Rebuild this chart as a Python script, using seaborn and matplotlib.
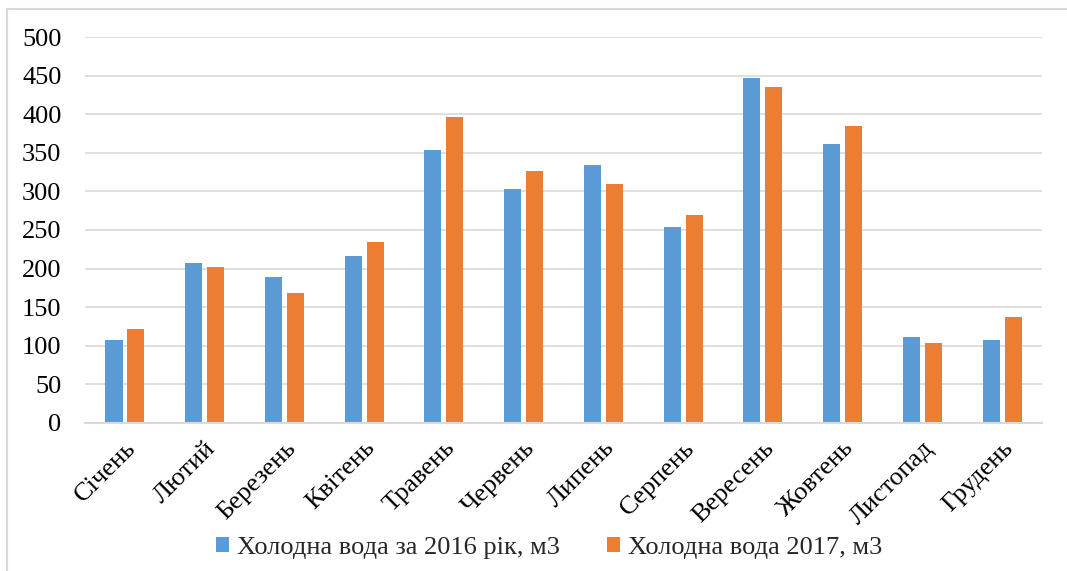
import matplotlib
matplotlib.use("Agg")
import matplotlib.pyplot as plt
from matplotlib.patches import Rectangle
import pandas as pd
import seaborn as sns

months = ["Січень", "Лютий", "Березень", "Квітень", "Травень", "Червень",
          "Липень", "Серпень", "Вересень", "Жовтень", "Листопад", "Грудень"]
series_2016 = "Холодна вода за 2016 рік, м3"
series_2017 = "Холодна вода 2017, м3"
water_2016 = [107, 207, 189, 216, 353, 303, 334, 254, 447, 361, 111, 107]
water_2017 = [122, 202, 168, 234, 396, 327, 310, 269, 435, 385, 104, 137]
y_ticks = [0, 50, 100, 150, 200, 250, 300, 350, 400, 450, 500]

df = pd.DataFrame({
    "month": months * 2,
    "value": water_2016 + water_2017,
    "series": [series_2016] * len(months) + [series_2017] * len(months),
})

sns.set_style("white")
plt.rcParams["font.family"] = ["Liberation Serif", "DejaVu Serif"]

fig = plt.figure(figsize=(10.67, 5.71), dpi=100)
ax = fig.add_axes([0.0797, 0.2592, 0.8969, 0.676])

palette = {series_2016: "#5B9BD5", series_2017: "#ED7D31"}
sns.barplot(data=df, x="month", y="value", hue="series", order=months,
            hue_order=[series_2016, series_2017], palette=palette,
            width=0.55, gap=0.22, saturation=1, edgecolor="none",
            ax=ax, legend=True)

ax.set_ylim(0, 500)
ax.set_yticks(y_ticks)
ax.set_xlim(-0.5, len(months) - 0.5)
ax.yaxis.grid(True, color="#d9d9d9", linewidth=1.2)
ax.set_axisbelow(True)
for side in ["top", "right", "left"]:
    ax.spines[side].set_visible(False)
ax.spines["bottom"].set_color("#d9d9d9")
ax.spines["bottom"].set_linewidth(1.5)
ax.tick_params(axis="both", length=0)
ax.tick_params(axis="y", labelsize=19, pad=17)
ax.set_xlabel("")
ax.set_ylabel("")
plt.setp(ax.get_yticklabels(), color="black")
ax.set_xticks(range(len(months)))
ax.set_xticklabels(months, rotation=45, ha="right", rotation_mode="anchor",
                   fontsize=19, color="black")
ax.tick_params(axis="x", pad=10)

leg = ax.legend(loc="center", bbox_to_anchor=(0.485, -0.324), ncol=2,
                frameon=False, fontsize=19, handlelength=0.5,
                handleheight=0.5, handletextpad=0.3, columnspacing=1.8,
                borderaxespad=0)

# light chart-area frame
fig.patches.append(Rectangle((0.0066, -0.05), 1.2, 0.9842 + 0.05,
                             transform=fig.transFigure, fill=False,
                             edgecolor="#d9d9d9", linewidth=1.5))

fig.savefig("out.png", dpi=100, facecolor="white")
